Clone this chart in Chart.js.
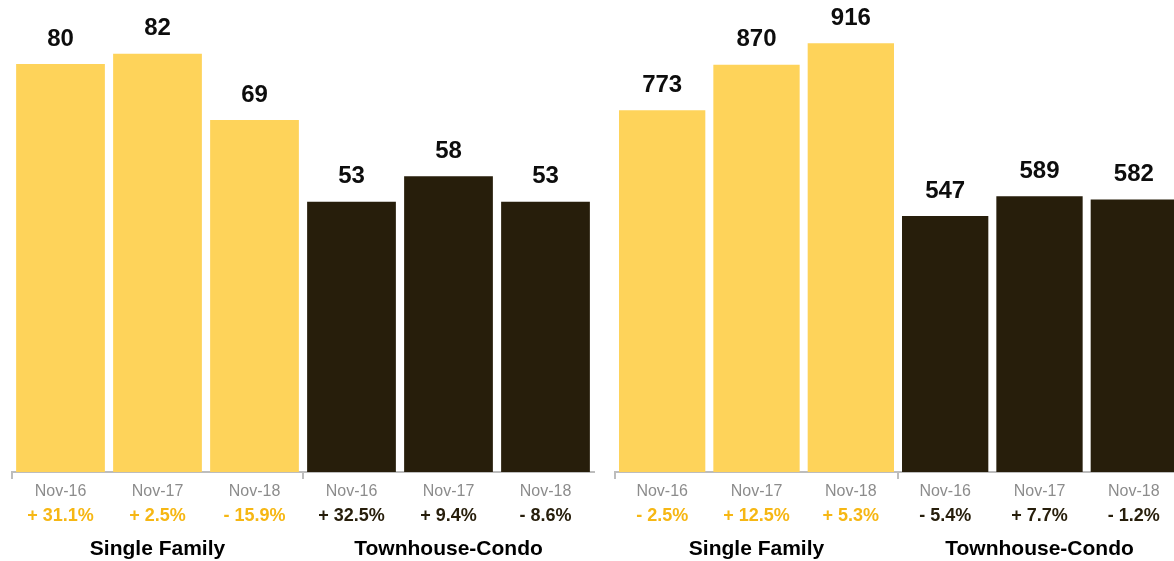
<!DOCTYPE html>
<html>
<head>
<meta charset="utf-8">
<script src="https://cdn.jsdelivr.net/npm/chart.js@4/dist/chart.umd.min.js"></script>
<style>
  html, body { margin: 0; padding: 0; background: #ffffff; overflow: hidden; }
  body { width: 1174px; height: 561px; position: relative; }
  .box { position: absolute; top: 0; height: 573px; }
  #leftBox { left: 0; width: 605px; }
  #rightBox { left: 605px; width: 580px; }
</style>
</head>
<body>
<div class="box" id="leftBox"><canvas id="leftChart"></canvas></div>
<div class="box" id="rightBox"><canvas id="rightChart"></canvas></div>
<script>
// ---- data ----
const periods = ['Nov-16', 'Nov-17', 'Nov-18', 'Nov-16', 'Nov-17', 'Nov-18'];
const groups = ['Single Family', 'Townhouse-Condo'];
const groupOfBar = [0, 0, 0, 1, 1, 1];
const leftValues = [80, 82, 69, 53, 58, 53];
const leftChanges = ['+ 31.1%', '+ 2.5%', '- 15.9%', '+ 32.5%', '+ 9.4%', '- 8.6%'];
const rightValues = [773, 870, 916, 547, 589, 582];
const rightChanges = ['- 2.5%', '+ 12.5%', '+ 5.3%', '- 5.4%', '+ 7.7%', '- 1.2%'];

// ---- styles ----
const FONT = "'Liberation Sans', Arial, Helvetica, sans-serif";
const barColors = ['#FED35A', '#271E0B'];
const changeColors = ['#F6B714', '#271E0B'];
const axisGray = '#BDBDBD';

const groupLabels = groupOfBar.map((g, i) => (i % 3 === 1 ? groups[g] : ''));

const valueLabelPlugin = {
  id: 'valueLabels',
  afterDatasetsDraw(chart) {
    const ctx = chart.ctx;
    const meta = chart.getDatasetMeta(0);
    const data = chart.data.datasets[0].data;
    ctx.save();
    ctx.font = 'bold 24px ' + FONT;
    ctx.fillStyle = '#0d0d0d';
    ctx.textAlign = 'center';
    ctx.textBaseline = 'middle';
    meta.data.forEach((bar, i) => {
      ctx.fillText(String(data[i]), bar.x, bar.y - 25);
    });
    ctx.restore();
  }
};

function makeChart(id, values, changes, yMax, padLeft, padRight, padTop) {
  return new Chart(document.getElementById(id), {
    type: 'bar',
    data: {
      labels: periods,
      datasets: [{
        data: values,
        backgroundColor: groupOfBar.map(g => barColors[g]),
        borderWidth: 0,
        barPercentage: 0.915,
        categoryPercentage: 1.0
      }]
    },
    options: {
      responsive: true,
      maintainAspectRatio: false,
      animation: false,
      layout: { padding: { left: padLeft, right: padRight, top: padTop, bottom: 2 } },
      plugins: { legend: { display: false }, tooltip: { enabled: false } },
      scales: {
        y: { display: false, min: 0, max: yMax },
        x: {
          type: 'category',
          offset: true,
          grid: {
            display: true,
            offset: true,
            drawOnChartArea: false,
            drawTicks: true,
            tickLength: 7,
            lineWidth: 2,
            color: (c) => (c.index % 3 === 0 ? axisGray : 'rgba(0,0,0,0)')
          },
          border: { display: true, color: axisGray, width: 2 },
          ticks: {
            autoSkip: false, maxRotation: 0, padding: 3,
            color: '#8C8C8C',
            font: { family: FONT, size: 16, weight: 'normal' }
          }
        },
        x2: {
          type: 'category',
          position: 'bottom',
          labels: changes,
          offset: true,
          grid: { display: false, drawTicks: false },
          border: { display: false },
          ticks: {
            autoSkip: false, maxRotation: 0, padding: 1,
            color: (c) => changeColors[groupOfBar[c.index]],
            font: { family: FONT, size: 18, weight: 'bold' }
          }
        },
        x3: {
          type: 'category',
          position: 'bottom',
          labels: groupLabels,
          offset: true,
          grid: { display: false, drawTicks: false },
          border: { display: false },
          ticks: {
            autoSkip: false, maxRotation: 0, padding: 9,
            color: '#000000',
            font: { family: FONT, size: 21, weight: 'bold' }
          }
        }
      }
    },
    plugins: [valueLabelPlugin]
  });
}

makeChart('leftChart', leftValues, leftChanges, 90, 12, 11, 13);
makeChart('rightChart', rightValues, rightChanges, 1000, 10, 4, 4);
</script>
</body>
</html>
